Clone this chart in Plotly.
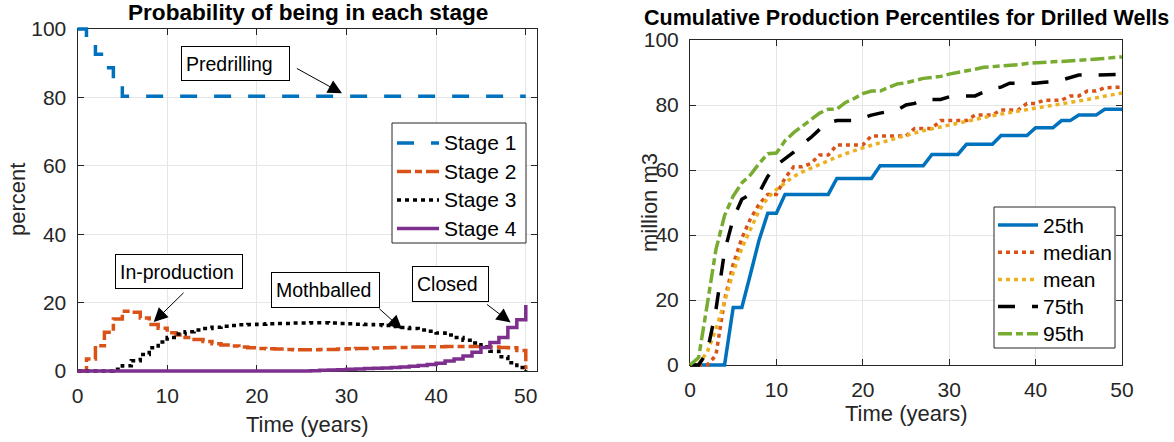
import plotly.graph_objects as go

# ---------------------------------------------------------------- data
years = list(range(51))

stage1 = [100.0, 96.5, 92.6, 88.7, 84.5] + [80.3] * 46
stage2 = [0.0, 3.5, 7.4, 11.3, 15.2, 17.5, 17.2, 15.5, 13.6, 12.5,
          11.2, 10.5, 9.8, 9.2, 8.6, 8.0, 7.6, 7.3, 7.0, 6.8,
          6.6, 6.5, 6.4, 6.3, 6.2, 6.2, 6.2, 6.3, 6.3, 6.4,
          6.5, 6.6, 6.6, 6.7, 6.8, 6.9, 6.9, 7.0, 7.0, 7.1,
          7.1, 7.2, 7.2, 7.2, 7.2, 7.1, 7.0, 6.9, 6.8, 6.0, 0.5]
stage3 = [0.0, 0.0, 0.0, 0.0, 0.5, 1.5, 3.0, 4.8, 6.8, 8.5,
          9.8, 10.8, 11.5, 12.0, 12.4, 12.8, 13.1, 13.3, 13.5, 13.6,
          13.7, 13.8, 13.9, 13.9, 14.0, 14.0, 14.1, 14.1, 14.0, 13.9,
          13.8, 13.7, 13.6, 13.5, 13.3, 13.0, 12.7, 12.4, 12.0, 11.6,
          11.1, 10.5, 9.8, 9.0, 8.2, 7.0, 5.8, 4.2, 2.4, 1.0, 0.0]
stage4 = [0.0] * 26 + [0.1, 0.2, 0.3, 0.4, 0.5, 0.6, 0.7, 0.8, 0.9, 1.0,
                       1.2, 1.4, 1.6, 1.9, 2.3, 2.9, 3.5, 4.4, 5.5, 6.9,
                       8.3, 9.8, 12.7, 15.0, 19.3]
stage_names = ["Stage 1", "Stage 2", "Stage 3", "Stage 4"]

p25 = [0, 0, 0, 0, 0, 17.7, 17.7, 28.0, 38.5, 46.7,
       46.7] + [52.5] * 6 + [57.4] * 5 + [61.3] * 6 + [64.8] * 4 + \
      [67.9] * 4 + [70.6] * 4 + [73.0] * 3 + [75.2] * 2 + [76.9] * 3 + [78.7] * 3
median = [0, 0, 0, 3.0, 20.0, 31.0, 39.0, 45.0, 49.5, 52.5,
          52.5, 57.5, 61.0, 61.0, 62.0, 64.6, 64.6] + [67.7] * 4 + [70.5] * 5 + \
         [72.8] * 3 + [75.2] * 4 + [76.9] * 3 + [78.5] * 3 + [80.5] * 2 + \
         [81.5] * 3 + [82.8] * 2 + [84.3] * 2 + [85.3] * 2 + [85.5]
mean = [0, 0.3, 4.0, 11.0, 19.5, 28.5, 36.0, 42.0, 47.5, 51.5,
        54.0, 56.0, 58.0, 59.4, 60.6, 61.8, 63.0, 64.0, 65.0, 66.0,
        66.8, 67.6, 68.4, 69.2, 70.0, 70.7, 71.4, 72.1, 72.7, 73.3,
        73.9, 74.5, 75.1, 75.7, 76.2, 76.7, 77.2, 77.7, 78.2, 78.7,
        79.1, 79.5, 79.9, 80.3, 80.7, 81.2, 81.7, 82.2, 82.7, 83.2, 83.7]
p75 = [0, 0, 4.0, 17.0, 35.0, 45.0, 51.0, 52.5, 53.0, 58.0,
       61.5, 63.5, 65.5, 68.0, 70.0, 72.5, 74.5, 75.2, 75.2, 75.2,
       76.0, 76.9, 77.5, 77.9, 78.5, 80.0, 80.5, 81.7, 81.7, 81.7,
       82.5, 82.8, 82.8, 82.8, 84.0, 85.1, 85.5, 86.7, 86.7, 86.7,
       86.7, 87.0, 87.2, 87.7, 88.5, 89.2, 89.2, 89.2, 89.2, 89.2, 89.4]
p95 = [0, 2.3, 18.7, 35.5, 46.0, 52.0, 56.0, 58.5, 62.0, 65.0,
       65.2, 69.0, 71.5, 73.5, 75.5, 77.5, 78.7, 78.7, 80.8, 82.0,
       83.5, 84.3, 84.3, 85.5, 86.5, 86.8, 87.5, 88.2, 88.5, 88.8,
       89.5, 90.0, 90.3, 91.0, 91.6, 91.8, 91.9, 92.1, 92.4, 92.8,
       93.0, 93.3, 93.3, 93.4, 93.7, 93.8, 93.9, 94.0, 94.3, 94.6, 94.8]
percentile_names = ["25th", "median", "mean", "75th", "95th"]

x_ticks = [0, 10, 20, 30, 40, 50]
y_ticks = [0, 20, 40, 60, 80, 100]

# -------------------------------------------------------------- styling
W, H = 1174, 442
FONT = "Liberation Sans, Arial, Helvetica, sans-serif"
INK = "#262626"
GRID = "#E6E6E6"
LW = 3.5

BLUE, ORANGE, YELLOW = "#0072BD", "#D95319", "#EDB120"
PURPLE, GREEN, BLACK = "#7E2F8E", "#77AC30", "#000000"
DASHED = "17px,17px"
DASHDOT = "14px,4px,7px,4px"
DOTTED = "4px,4px"

stage_styles = [(BLUE, DASHED), (ORANGE, DASHDOT), (BLACK, DOTTED), (PURPLE, "solid")]
pct_styles = [(BLUE, "solid"), (ORANGE, DOTTED), (YELLOW, DOTTED),
              (BLACK, DASHED), (GREEN, DASHDOT)]

# panel boxes in pixels: left, right, top, bottom
LEFT_BOX = (77.5, 537.0, 29.0, 371.0)
RIGHT_BOX = (690.0, 1122.0, 40.0, 365.0)
LEFT_XR = (0, 51.25)
RIGHT_XR = (0, 50)
YR = (0, 100)
PAD = 8  # extra room so thick lines on the box edges are not clipped


def px(x):
    return x / W


def py(y):
    return 1 - y / H


def frame_axes(box, xr):
    x0, x1, y0, y1 = box
    common = dict(showline=True, linecolor=INK, linewidth=1, mirror="ticks",
                  ticks="inside", ticklen=6, tickwidth=1, tickcolor=INK,
                  showgrid=True, gridcolor=GRID, gridwidth=1, zeroline=False,
                  tickfont=dict(family=FONT, size=21, color=INK),
                  fixedrange=True, automargin=False)
    xa = dict(common, domain=[px(x0), px(x1)], range=list(xr), tickvals=x_ticks,
              ticklabelstandoff=6)
    ya = dict(common, domain=[py(y1), py(y0)], range=list(YR), tickvals=y_ticks,
              ticklabelstandoff=6)
    return xa, ya


def data_axes(box, xr):
    x0, x1, y0, y1 = box
    kx = (xr[1] - xr[0]) / (x1 - x0)
    ky = (YR[1] - YR[0]) / (y1 - y0)
    xa = dict(visible=False, fixedrange=True, automargin=False,
              domain=[px(x0 - PAD), px(x1 + PAD)],
              range=[xr[0] - PAD * kx, xr[1] + PAD * kx])
    ya = dict(visible=False, fixedrange=True, automargin=False,
              domain=[py(y1 + PAD), py(y0 - PAD)],
              range=[YR[0] - PAD * ky, YR[1] + PAD * ky])
    return xa, ya


fig = go.Figure()

# empty traces so the framed subplots are created
fig.add_trace(go.Scatter(x=[None], y=[None], xaxis="x", yaxis="y",
                         showlegend=False, hoverinfo="skip"))
fig.add_trace(go.Scatter(x=[None], y=[None], xaxis="x2", yaxis="y2",
                         showlegend=False, hoverinfo="skip"))

for name, ys, (col, dash) in zip(stage_names, [stage1, stage2, stage3, stage4],
                                 stage_styles):
    fig.add_trace(go.Scatter(x=years, y=ys, name=name, mode="lines",
                             line=dict(color=col, dash=dash, width=LW, shape="hv"),
                             xaxis="x3", yaxis="y3", showlegend=False))

for name, ys, (col, dash) in zip(percentile_names, [p25, median, mean, p75, p95],
                                 pct_styles):
    fig.add_trace(go.Scatter(x=years, y=ys, name=name, mode="lines",
                             line=dict(color=col, dash=dash, width=LW),
                             xaxis="x4", yaxis="y4", showlegend=False))

xa1, ya1 = frame_axes(LEFT_BOX, LEFT_XR)
xa2, ya2 = frame_axes(RIGHT_BOX, RIGHT_XR)
xa3, ya3 = data_axes(LEFT_BOX, LEFT_XR)
xa4, ya4 = data_axes(RIGHT_BOX, RIGHT_XR)
xa1["anchor"], ya1["anchor"] = "y", "x"
xa2["anchor"], ya2["anchor"] = "y2", "x2"
xa3["anchor"], ya3["anchor"] = "y3", "x3"
xa4["anchor"], ya4["anchor"] = "y4", "x4"

annotations = []
shapes = []


def label(text, x, y, size=21, bold=False, angle=0, anchor="center"):
    annotations.append(dict(
        text=f"<b>{text}</b>" if bold else text, x=px(x), y=py(y),
        xref="paper", yref="paper", showarrow=False, textangle=angle,
        xanchor=anchor, yanchor="middle",
        font=dict(family=FONT, size=size, color="#000000" if bold else INK)))


# titles and axis labels
label("Probability of being in each stage", 307.5, 12, size=22.6, bold=True)
label("Cumulative Production Percentiles for Drilled Wells", 906, 18, size=21.5, bold=True)
label("Time (years)", 307.5, 424, size=22)
label("percent", 18, 200, size=22, angle=-90)
label("Time (years)", 906, 413, size=22)
label("million m3", 650, 203, size=22, angle=-90)

# text-arrow callouts on the stage panel (data coordinates)
callouts = [
    # text, box centre (t, %), box size px, arrow tail (t, %), arrow tip (t, %)
    ("Predrilling", (17.6, 90.0), (115, 35), (24.3, 88.7), (29.5, 81.2)),
    ("In-production", (11.3, 29.2), (134, 35), (12.0, 23.3), (8.5, 14.3)),
    ("Mothballed", (27.7, 23.8), (115, 36), (33.5, 18.6), (36.2, 12.2)),
    ("Closed", (41.6, 25.3), (83, 36), (45.5, 19.8), (48.3, 14.2)),
]
for text, (bx, by), (bw, bh), (tx, ty), (hx, hy) in callouts:
    annotations.append(dict(
        text="", x=hx, y=hy, xref="x3", yref="y3", ax=tx, ay=ty,
        axref="x3", ayref="y3", showarrow=True, arrowhead=2, arrowsize=2.8,
        arrowwidth=1, arrowcolor="#000000", standoff=0, startstandoff=0))
    annotations.append(dict(
        text=text, x=bx, y=by, xref="x3", yref="y3", showarrow=False,
        xanchor="center", yanchor="middle", align="left",
        width=bw - 16, height=bh - 10, borderpad=4, borderwidth=1,
        bordercolor="#000000", bgcolor="#FFFFFF",
        font=dict(family=FONT, size=19.5, color="#000000")))


def legend(box, names, styles, sample, text_x, first_y, step):
    x0, x1, y0, y1 = box
    shapes.append(dict(type="rect", xref="paper", yref="paper",
                       x0=px(x0), x1=px(x1), y0=py(y1), y1=py(y0),
                       line=dict(color=INK, width=1), fillcolor="#FFFFFF",
                       layer="above"))
    for i, (name, (col, dash)) in enumerate(zip(names, styles)):
        yy = first_y + i * step
        shapes.append(dict(type="line", xref="paper", yref="paper",
                           x0=px(sample[0]), x1=px(sample[1]), y0=py(yy), y1=py(yy),
                           line=dict(color=col, width=LW, dash=dash), layer="above"))
        annotations.append(dict(
            text=name, x=px(text_x), y=py(yy), xref="paper", yref="paper",
            showarrow=False, xanchor="left", yanchor="middle",
            font=dict(family=FONT, size=21, color="#000000")))


legend((392, 526, 123, 243), stage_names, stage_styles, (397, 439), 442, 143, 28.5)
legend((994, 1115, 207, 348), percentile_names, pct_styles, (998, 1038), 1041, 225, 27.2)

fig.update_layout(
    width=W, height=H, margin=dict(l=0, r=0, t=0, b=0, pad=0, autoexpand=False),
    paper_bgcolor="#FFFFFF", plot_bgcolor="rgba(0,0,0,0)",
    showlegend=False,
    xaxis=xa1, yaxis=ya1, xaxis2=xa2, yaxis2=ya2,
    xaxis3=xa3, yaxis3=ya3, xaxis4=xa4, yaxis4=ya4,
    annotations=annotations, shapes=shapes,
)

fig.write_html("out.html")
